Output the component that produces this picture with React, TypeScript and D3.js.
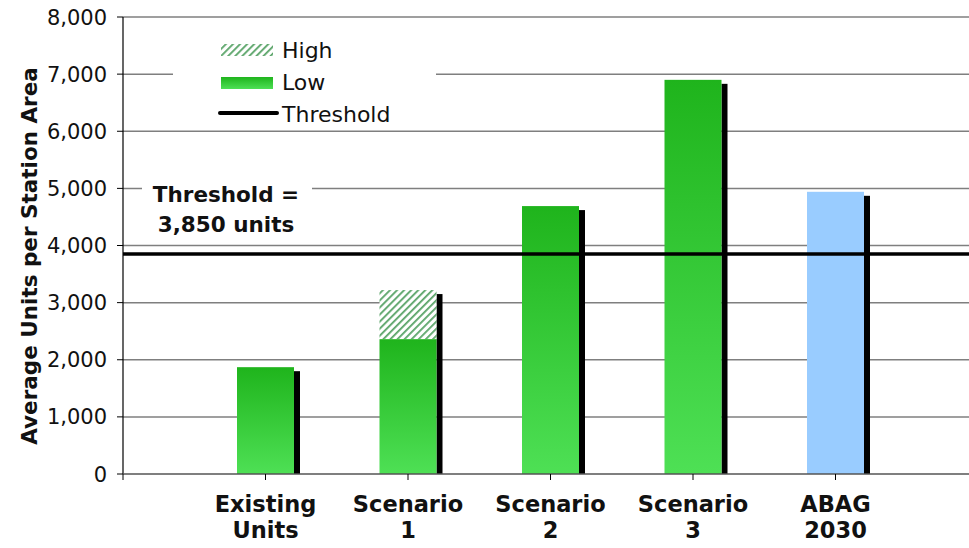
import React from "react";
import * as d3 from "d3";

const categories = ["Existing Units", "Scenario 1", "Scenario 2", "Scenario 3", "ABAG 2030"];
const lowValues = [1870, 2360, 4690, 6900, 4940];
const highValues = [0, 3220, 0, 0, 0];
const barKinds = ["green", "green", "green", "green", "blue"];
const yTicks = [0, 1000, 2000, 3000, 4000, 5000, 6000, 7000, 8000];
const thresholdValue = 3850;
const legendLabels = ["High", "Low", "Threshold"];
const thresholdLabel = ["Threshold =", "3,850 units"];
const yTitle = "Average Units per Station Area";

const W = 969;
const H = 548;
const left = 123;
const right = 975;
const top = 17;
const bottom = 474;
const barW = 57;
const FONT = "'DejaVu Sans', Verdana, sans-serif";

export default function App() {
  const y = d3.scaleLinear().domain([0, 8000]).range([bottom, top]);
  const x = d3.scalePoint<string>().domain(categories).range([265.5, 835.5]);
  const fmt = d3.format(",");
  const tickXs = [left, ...categories.map((c) => x(c) as number)];

  return (
    <svg width={W} height={H} style={{ position: "absolute", left: 0, top: 0, background: "#fff" }}>
      <defs>
        <linearGradient id="gGreen" x1="0" y1="0" x2="0" y2="1">
          <stop offset="0" stopColor="#1fb41c" />
          <stop offset="1" stopColor="#4ee055" />
        </linearGradient>
        <pattern id="hatch" width="5" height="5" patternUnits="userSpaceOnUse" patternTransform="rotate(45)">
          <rect width="5" height="5" fill="#ffffff" />
          <rect width="1.8" height="5" fill="#5aa468" />
        </pattern>
      </defs>

      {/* gridlines */}
      {yTicks.filter((t) => t > 0).map((t) => (
        <line key={t} x1={left} x2={right} y1={y(t)} y2={y(t)} stroke="#7f7f7f" strokeWidth={1.5} />
      ))}

      {/* legend box */}
      <rect x={173} y={28} width={263} height={99} fill="#fff" />
      {/* threshold label box */}
      <rect x={142} y={176} width={170} height={64} fill="#fff" />

      {/* bars */}
      {categories.map((c, i) => {
        const cx = x(c) as number;
        const x0 = cx - barW / 2;
        const topVal = Math.max(lowValues[i], highValues[i]);
        return (
          <g key={c}>
            <rect x={x0 + barW} y={y(topVal) + 4} width={6} height={bottom - y(topVal) - 4} fill="#000" />
            {highValues[i] > 0 && (
              <rect x={x0} y={y(highValues[i])} width={barW} height={y(lowValues[i]) - y(highValues[i])} fill="url(#hatch)" />
            )}
            <rect
              x={x0}
              y={y(lowValues[i])}
              width={barW}
              height={bottom - y(lowValues[i])}
              fill={barKinds[i] === "blue" ? "#99ccff" : "url(#gGreen)"}
            />
          </g>
        );
      })}

      {/* threshold line */}
      <line x1={left} x2={right} y1={y(thresholdValue)} y2={y(thresholdValue)} stroke="#000" strokeWidth={3.5} />

      {/* axes */}
      <line x1={left} x2={left} y1={top} y2={bottom} stroke="#000" strokeWidth={1.2} />
      <line x1={left} x2={right} y1={bottom} y2={bottom} stroke="#555" strokeWidth={1.5} />
      {yTicks.map((t) => (
        <g key={t}>
          <line x1={117} x2={left} y1={y(t)} y2={y(t)} stroke="#000" strokeWidth={1} />
          <text x={107} y={y(t)} dy="0.36em" textAnchor="end" fontFamily={FONT} fontSize={21} fill="#111">
            {fmt(t)}
          </text>
        </g>
      ))}
      {tickXs.map((tx, i) => (
        <line key={i} x1={tx} x2={tx} y1={bottom} y2={bottom + 6} stroke="#000" strokeWidth={1} />
      ))}
      {categories.map((c) => {
        const parts = c.split(" ");
        return (
          <text key={c} x={x(c)} textAnchor="middle" fontFamily={FONT} fontWeight="bold" fontSize={22.5} fill="#111">
            <tspan x={x(c)} y={512}>{parts[0]}</tspan>
            <tspan x={x(c)} y={538}>{parts[1]}</tspan>
          </text>
        );
      })}

      {/* y title */}
      <text transform="translate(37,256) rotate(-90)" textAnchor="middle" fontFamily={FONT} fontWeight="bold" fontSize={21.5} fill="#111">
        {yTitle}
      </text>

      {/* legend */}
      <rect x={221} y={44} width={52} height={12} fill="url(#hatch)" />
      <rect x={221} y={77} width={52} height={12} fill="url(#gGreen)" />
      <line x1={220} x2={277} y1={113} y2={113} stroke="#000" strokeWidth={4} strokeLinecap="round" />
      {legendLabels.map((l, i) => (
        <text key={l} x={282} y={50 + i * 32} dy="0.36em" fontFamily={FONT} fontSize={22} fill="#111">
          {l}
        </text>
      ))}

      {/* threshold label */}
      {thresholdLabel.map((l, i) => (
        <text key={l} x={226} y={202 + i * 30} textAnchor="middle" fontFamily={FONT} fontWeight="bold" fontSize={21.5} fill="#111">
          {l}
        </text>
      ))}
    </svg>
  );
}
